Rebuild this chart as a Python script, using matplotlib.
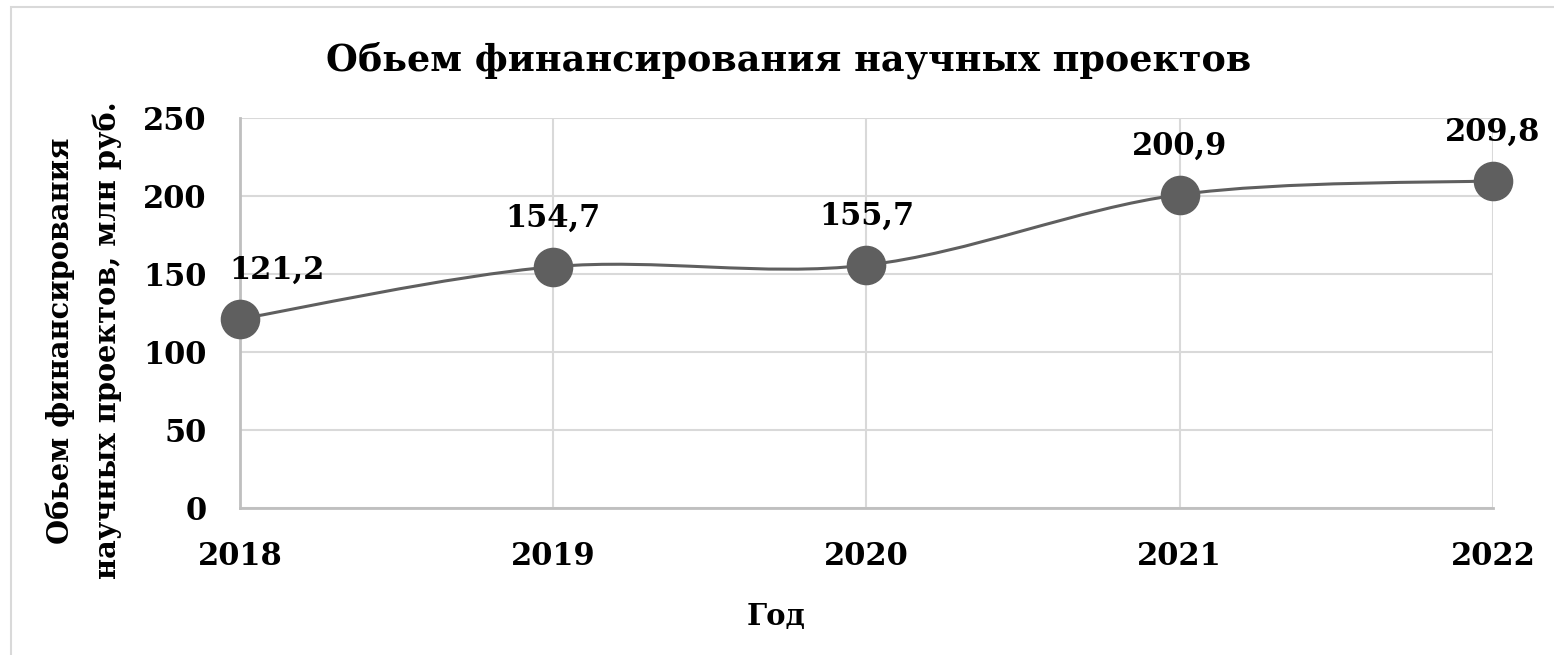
import matplotlib.pyplot as plt
from matplotlib.path import Path
from matplotlib.patches import PathPatch, Rectangle
import numpy as np

# ---- data ----
years = ["2018", "2019", "2020", "2021", "2022"]
values = [121.2, 154.7, 155.7, 200.9, 209.8]
value_labels = ["121,2", "154,7", "155,7", "200,9", "209,8"]

title = "Обьем финансирования научных проектов"
ylabel = "Обьем финансирования\nнаучных проектов, млн руб."
xlabel = "Год"

plt.rcParams['font.family'] = ['DejaVu Serif', 'Liberation Serif']
plt.rcParams['font.weight'] = 'bold'

line_color = "#5f5f5f"
grid_color = "#d9d9d9"
spine_color = "#bfbfbf"

fig = plt.figure(figsize=(15.54, 6.55), dpi=100)
ax = fig.add_axes([0.1544, 0.2244, 0.8063, 0.5954])

# frame of the chart area (only left/top edges fall inside the image)
fig.patches.append(Rectangle((0.0068, -0.05), 1.2, 1.039, transform=fig.transFigure,
                             fill=False, edgecolor="#d9d9d9", linewidth=1.5))

x = np.arange(len(years))
y = np.array(values)

# smoothed line (Catmull-Rom style bezier as in Excel)
pts = np.column_stack([x, y])
ext = np.vstack([pts[0], pts, pts[-1]])
verts = [tuple(pts[0])]
codes = [Path.MOVETO]
for i in range(len(pts) - 1):
    p0, p1, p2, p3 = ext[i], ext[i + 1], ext[i + 2], ext[i + 3]
    c1 = p1 + (p2 - p0) / 6.0
    c2 = p2 - (p3 - p1) / 6.0
    verts += [tuple(c1), tuple(c2), tuple(p2)]
    codes += [Path.CURVE4] * 3
ax.add_patch(PathPatch(Path(verts, codes), facecolor="none", edgecolor=line_color,
                       linewidth=2.2, zorder=3, clip_on=False))

ax.plot(x, y, linestyle="none", marker="o", markersize=27.5, color=line_color,
        zorder=4, clip_on=False)

# data labels
for i, (xi, yi, lab) in enumerate(zip(x, y, value_labels)):
    dx = 27 if i == 0 else 0
    ax.annotate(lab, (xi, yi), xytext=(dx, 29), textcoords="offset points",
                ha="center", va="baseline", fontsize=22, fontweight="bold", zorder=5)

ax.set_xlim(0, len(years) - 1)
ax.set_ylim(0, 250)
ax.set_yticks([0, 50, 100, 150, 200, 250])
ax.set_xticks(x)
ax.set_xticklabels(years)
ax.tick_params(axis="both", length=0, labelsize=22)
ax.tick_params(axis="x", pad=24)
ax.tick_params(axis="y", pad=24)

ax.grid(True, color=grid_color, linewidth=1.5)
ax.set_axisbelow(True)
for s in ["top", "right"]:
    ax.spines[s].set_visible(False)
for s in ["left", "bottom"]:
    ax.spines[s].set_color(spine_color)
    ax.spines[s].set_linewidth(2)

fig.text(0.5077, 0.908, title, fontsize=26.3, fontweight="bold", ha="center", va="center")
ax.set_xlabel(xlabel, fontsize=21, fontweight="bold")
ax.xaxis.set_label_coords(0.428, -0.242)
ax.set_ylabel(ylabel, fontsize=20.8, fontweight="bold", linespacing=1.75)
ax.yaxis.set_label_coords(-0.094, 0.43)

fig.savefig("out.png", dpi=100)
